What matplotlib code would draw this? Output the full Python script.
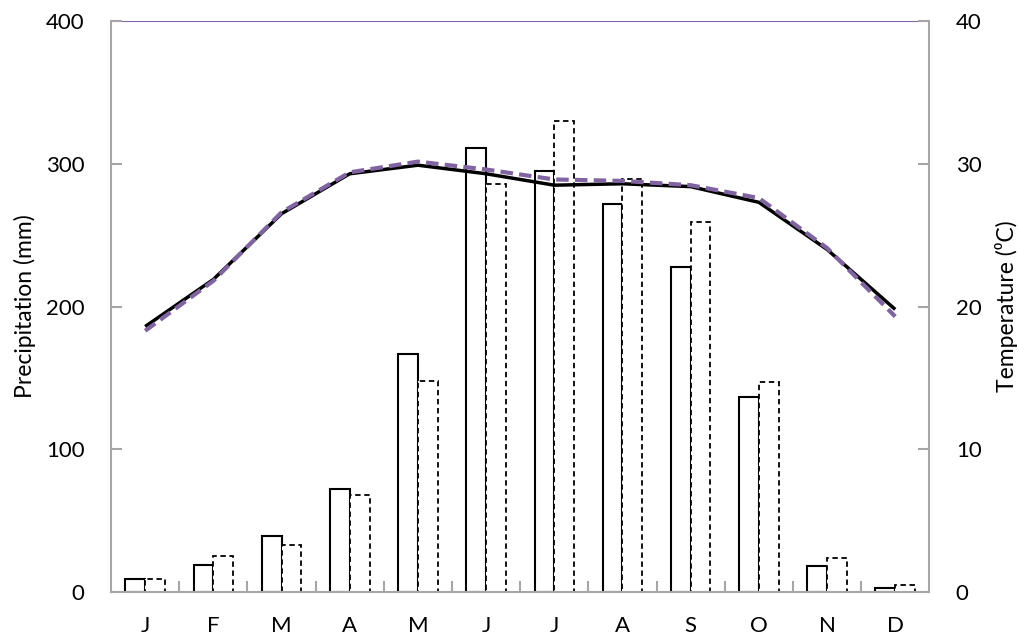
import numpy as np
import matplotlib
matplotlib.use("Agg")
import matplotlib.pyplot as plt
from matplotlib.ticker import FixedLocator

plt.rcParams['font.family'] = ['Lato', 'DejaVu Sans']

months = ["J", "F", "M", "A", "M", "J", "J", "A", "S", "O", "N", "D"]
precip_a = [9, 19, 39, 72, 167, 311, 295, 272, 228, 137, 18, 3]
precip_b = [9, 25, 33, 68, 148, 286, 330, 289, 259, 147, 24, 5]
temp_a = [18.6, 21.9, 26.5, 29.3, 29.9, 29.3, 28.5, 28.6, 28.4, 27.3, 24.0, 19.8]
temp_b = [18.3, 21.8, 26.6, 29.4, 30.15, 29.6, 28.9, 28.8, 28.5, 27.6, 24.1, 19.3]

gray = "#A6A6A6"
purple = "#8064A2"

fig, ax = plt.subplots(figsize=(10.19, 6.36), dpi=100)
fig.subplots_adjust(left=0.109, right=0.912, top=0.967, bottom=0.069)

x = np.arange(len(months))
w = 0.29
ax.bar(x - w / 2, precip_a, width=w, facecolor="white", edgecolor="black", linewidth=1.5, zorder=2)
ax.bar(x + w / 2, precip_b, width=w, facecolor="white", edgecolor="black", linewidth=1.3,
       linestyle=(0, (3, 2)), zorder=2)
ax.axhline(400, xmin=0.01, xmax=0.99, color=purple, linewidth=1.5, zorder=1)

ax.set_xlim(-0.5, 11.5)
ax.set_ylim(0, 400)
ax.set_yticks([0, 100, 200, 300, 400])
ax.set_xticks(x)
ax.set_xticklabels(months)
ax.xaxis.set_minor_locator(FixedLocator(np.arange(0.5, 11, 1)))
ax.tick_params(axis="x", which="major", length=0, pad=17, labelsize=16)
ax.tick_params(axis="x", which="minor", direction="in", length=8, width=1.5, color=gray)
ax.tick_params(axis="y", direction="in", length=8, width=1.5, color=gray, pad=19, labelsize=16)
ax.set_ylabel("Precipitation (mm)", fontsize=16.5, labelpad=7)
for s in ["left", "bottom"]:
    ax.spines[s].set_color(gray)
    ax.spines[s].set_linewidth(1.5)
ax.spines["top"].set_visible(False)
ax.spines["right"].set_visible(False)

ax2 = ax.twinx()
ax2.plot(x, temp_a, color="black", linewidth=2.5, solid_capstyle="butt")
ax2.plot(x, temp_b, color=purple, linewidth=3, linestyle=(0, (3, 1.5)))
ax2.set_ylim(0, 40)
ax2.set_yticks([0, 10, 20, 30, 40])
ax2.tick_params(axis="y", direction="in", length=8, width=1.5, color=gray, pad=19, labelsize=16)
ax2.set_ylabel("Temperature (⁰C)", fontsize=16.5, labelpad=10)
ax2.spines["right"].set_color(gray)
ax2.spines["right"].set_linewidth(1.5)
for s in ["left", "bottom", "top"]:
    ax2.spines[s].set_visible(False)

fig.savefig("out.png", dpi=100)
